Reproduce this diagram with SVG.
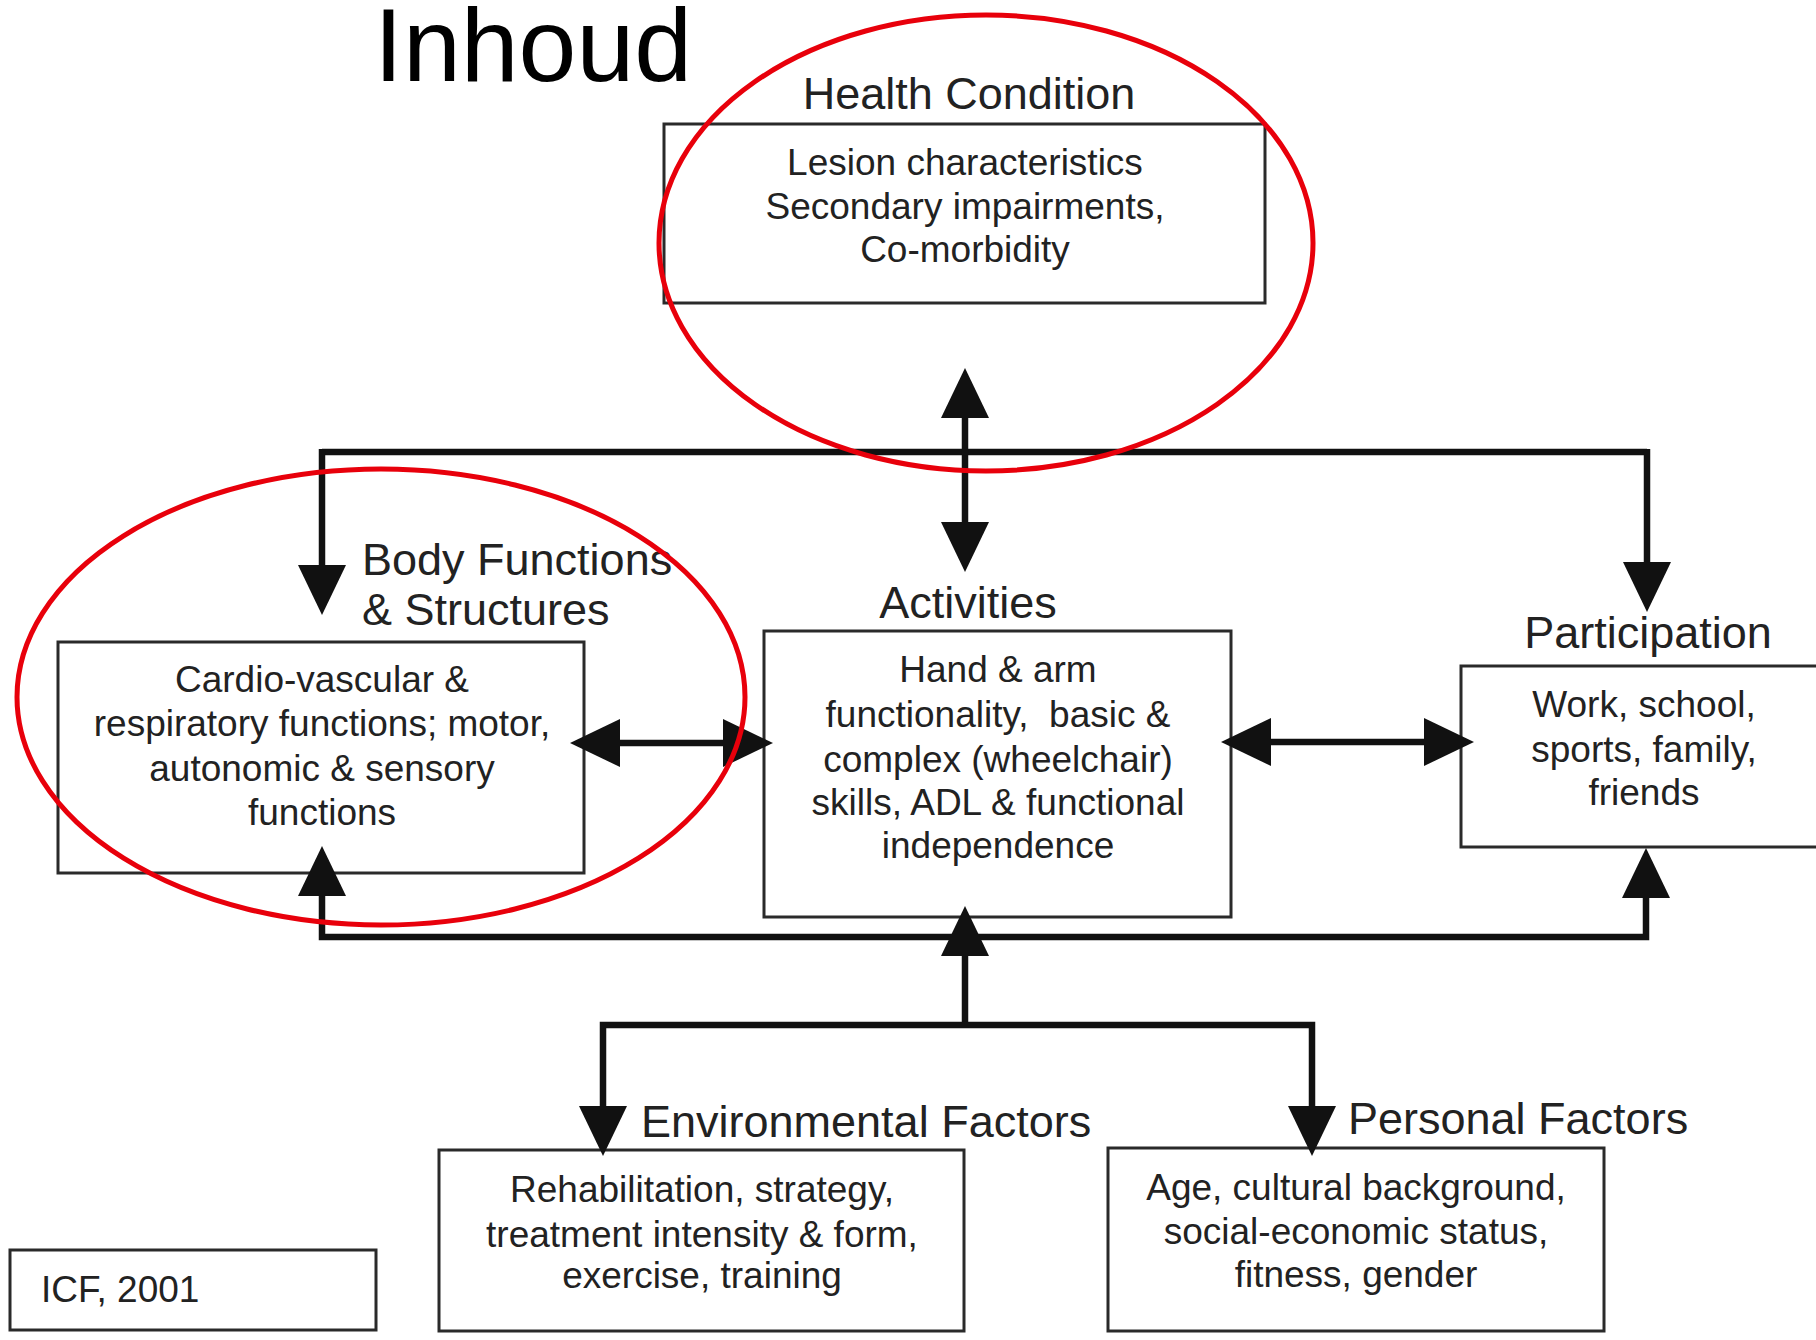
<svg xmlns="http://www.w3.org/2000/svg" width="1816" height="1340" viewBox="0 0 1816 1340">
<defs>
<style>
.box{fill:#fff;stroke:#2a2a2a;stroke-width:3}
.lbl{font-family:"Liberation Sans",Arial,sans-serif;font-size:45px;fill:#222}
.txt{font-family:"Liberation Sans",Arial,sans-serif;font-size:37px;fill:#222;text-anchor:middle}
.con{fill:none;stroke:#111;stroke-width:6.5;stroke-linejoin:miter}
.ring{fill:none;stroke:#e8000b;stroke-width:5}
</style>
<marker id="ah" viewBox="0 -24 50 48" refX="0" refY="0" markerWidth="50" markerHeight="48" markerUnits="userSpaceOnUse" orient="auto-start-reverse">
<path d="M0,-24 L50,0 L0,24 Z" fill="#111"/>
</marker>
</defs>
<rect width="1816" height="1340" fill="#fff"/>
<text x="374" y="81" font-family="'Liberation Sans',Arial,sans-serif" font-size="104" fill="#000">Inhoud</text>

<g id="health">
<text class="lbl" x="969" y="109" text-anchor="middle">Health Condition</text>
<rect class="box" x="664" y="124" width="601" height="179"/>
<text class="txt" x="965" y="175">Lesion characteristics</text>
<text class="txt" x="965" y="219">Secondary impairments,</text>
<text class="txt" x="965" y="262">Co-morbidity</text>
</g>

<g id="body">
<text class="lbl" x="362" y="575">Body Functions</text>
<text class="lbl" x="362" y="625">&amp; Structures</text>
<rect class="box" x="58" y="642" width="526" height="231"/>
<text class="txt" x="322" y="692">Cardio-vascular &amp;</text>
<text class="txt" x="322" y="736">respiratory functions; motor,</text>
<text class="txt" x="322" y="781">autonomic &amp; sensory</text>
<text class="txt" x="322" y="825">functions</text>
</g>

<g id="activities">
<text class="lbl" x="968" y="618" text-anchor="middle">Activities</text>
<rect class="box" x="764" y="631" width="467" height="286"/>
<text class="txt" x="998" y="682">Hand &amp; arm</text>
<text class="txt" x="998" y="727" xml:space="preserve">functionality,  basic &amp;</text>
<text class="txt" x="998" y="772">complex (wheelchair)</text>
<text class="txt" x="998" y="815">skills, ADL &amp; functional</text>
<text class="txt" x="998" y="858">independence</text>
</g>

<g id="participation">
<text class="lbl" x="1648" y="648" text-anchor="middle">Participation</text>
<rect class="box" x="1461" y="666" width="420" height="181"/>
<text class="txt" x="1644" y="717">Work, school,</text>
<text class="txt" x="1644" y="762">sports, family,</text>
<text class="txt" x="1644" y="805">friends</text>
</g>

<g id="environmental">
<text class="lbl" x="641" y="1137">Environmental Factors</text>
<rect class="box" x="439" y="1150" width="525" height="181"/>
<text class="txt" x="702" y="1202">Rehabilitation, strategy,</text>
<text class="txt" x="702" y="1247">treatment intensity &amp; form,</text>
<text class="txt" x="702" y="1288">exercise, training</text>
</g>

<g id="personal">
<text class="lbl" x="1348" y="1134">Personal Factors</text>
<rect class="box" x="1108" y="1148" width="496" height="183"/>
<text class="txt" x="1356" y="1200">Age, cultural background,</text>
<text class="txt" x="1356" y="1244">social-economic status,</text>
<text class="txt" x="1356" y="1287">fitness, gender</text>
</g>

<g id="icf">
<rect class="box" x="10" y="1250" width="366" height="80"/>
<text x="41" y="1302" font-family="'Liberation Sans',Arial,sans-serif" font-size="37" fill="#222">ICF, 2001</text>
</g>

<g id="connectors">
<path class="con" d="M322,452 H1647"/>
<path class="con" d="M322,449 V565" marker-end="url(#ah)"/>
<path class="con" d="M1647,449 V562" marker-end="url(#ah)"/>
<path class="con" d="M965,418 V522" marker-start="url(#ah)" marker-end="url(#ah)"/>
<path class="con" d="M620,743 H723" marker-start="url(#ah)" marker-end="url(#ah)"/>
<path class="con" d="M1271,742 H1424" marker-start="url(#ah)" marker-end="url(#ah)"/>
<path class="con" d="M322,896 V937 H1646 V898" marker-start="url(#ah)" marker-end="url(#ah)"/>
<path class="con" d="M965,1025 V956" marker-end="url(#ah)"/>
<path class="con" d="M603,1106 V1025 H1312 V1106" marker-start="url(#ah)" marker-end="url(#ah)"/>
</g>

<g id="highlights">
<ellipse class="ring" cx="986" cy="243" rx="327" ry="228"/>
<ellipse class="ring" cx="381" cy="697" rx="364" ry="228"/>
</g>
</svg>
